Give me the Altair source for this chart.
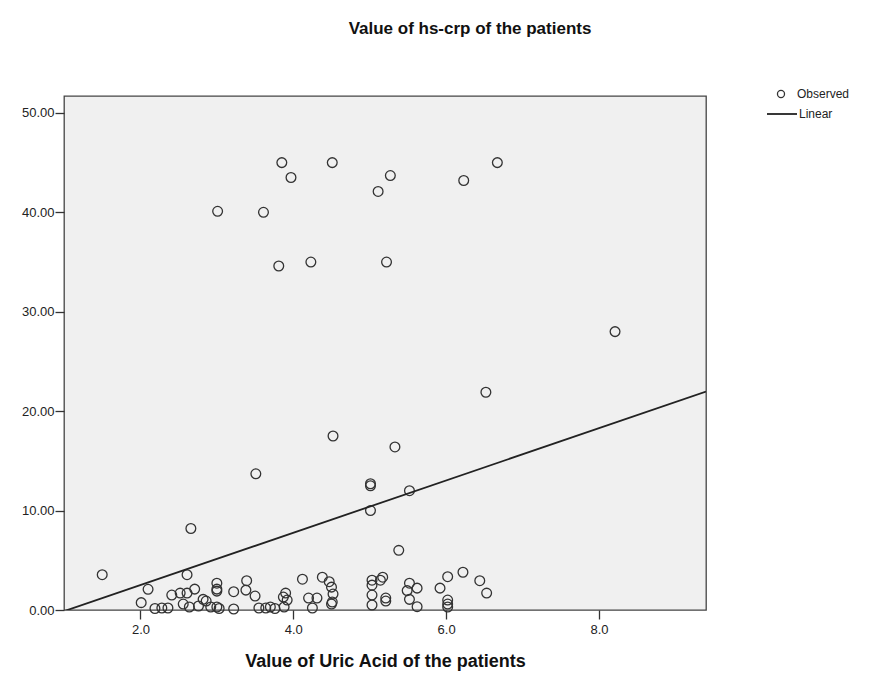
import altair as alt
import pandas as pd

# Observed points (Uric Acid, hs-crp)
obs_x = [3.85, 4.51, 3.97, 5.27, 5.11, 3.01, 3.61, 3.81, 4.23, 5.22, 6.67, 6.23, 8.21,
         4.52, 3.51, 2.66, 1.50, 2.61, 6.52, 5.33, 5.01, 5.01, 5.52, 5.01, 5.38,
         2.01, 2.10, 2.19, 2.28, 2.36, 2.41, 2.52, 2.56, 2.61, 2.71, 2.64, 2.76, 2.82, 2.86, 2.92,
         3.00, 3.00, 3.00, 3.00, 3.03, 3.22, 3.22, 3.39, 3.38, 3.50, 3.55, 3.64, 3.70, 3.76, 3.87,
         3.90, 3.92, 3.88, 4.12, 4.20, 4.25, 4.31, 4.38, 4.47, 4.50, 4.52, 4.51, 4.50, 5.03, 5.14,
         5.17, 5.03, 5.03, 5.03, 5.21, 5.21, 5.52, 5.49, 5.62, 5.52, 5.62, 5.92, 6.02, 6.02, 6.02,
         6.02, 6.22, 6.44, 6.53]
obs_y = [45.0, 45.0, 43.5, 43.7, 42.1, 40.1, 40.0, 34.6, 35.0, 35.0, 45.0, 43.2, 28.0,
         17.5, 13.7, 8.2, 3.55, 3.55, 21.9, 16.4, 12.7, 12.5, 12.0, 10.0, 6.0,
         0.74, 2.08, 0.15, 0.2, 0.2, 1.5, 1.7, 0.6, 1.7, 2.1, 0.3, 0.4, 1.07, 0.9, 0.3,
         2.7, 2.1, 1.9, 0.3, 0.15, 1.84, 0.1, 2.95, 2.0, 1.4, 0.2, 0.2, 0.3, 0.15, 1.3,
         1.7, 1.0, 0.3, 3.1, 1.2, 0.2, 1.2, 3.3, 2.85, 2.3, 1.6, 0.8, 0.6, 3.0, 3.0,
         3.3, 2.5, 1.5, 0.5, 1.2, 0.9, 2.7, 1.95, 2.2, 1.07, 0.33, 2.2, 3.35, 1.0, 0.6,
         0.3, 3.8, 2.95, 1.7]

# Linear fit line endpoints
line_x = [1.0, 9.4]
line_y = [-0.12, 21.97]

x_ticks = [2, 4, 6, 8]
y_ticks = [0, 10, 20, 30, 40, 50]

obs = pd.DataFrame({"x": obs_x, "y": obs_y, "series": "Observed"})
fit = pd.DataFrame({"x": line_x, "y": line_y, "fit": "Linear"})

FONT = "Liberation Sans"

xscale = alt.Scale(domain=[1.0, 9.4], nice=False, zero=False)
yscale = alt.Scale(domain=[0, 51.7], nice=False, zero=False)

xaxis = alt.Axis(values=x_ticks, format=".1f", title="Value of Uric Acid of the patients",
                 domain=False, grid=False, tickSize=9, tickColor="#333", tickWidth=1.3,
                 labelFont=FONT, labelFontSize=13, labelColor="#222", labelPadding=4,
                 titleFont=FONT, titleFontSize=18, titleFontWeight="bold", titleColor="#111",
                 titlePadding=16)
yaxis = alt.Axis(values=y_ticks, format=".2f", title=None,
                 domain=False, grid=False, tickSize=9, tickColor="#333", tickWidth=1.3,
                 labelFont=FONT, labelFontSize=13, labelColor="#222", labelPadding=1,
                 minExtent=51, maxExtent=51)

points = alt.Chart(obs).mark_point(filled=False, strokeWidth=1.3, size=95, opacity=1).encode(
    x=alt.X("x:Q", scale=xscale, axis=xaxis),
    y=alt.Y("y:Q", scale=yscale, axis=yaxis),
    shape=alt.Shape("series:N", scale=alt.Scale(domain=["Observed"], range=["circle"]),
                    legend=alt.Legend(title=None, orient="none", legendX=711, legendY=-8,
                                      symbolSize=50, symbolStrokeColor="#333", symbolStrokeWidth=1.3,
                                      symbolFillColor="transparent", labelOffset=10,
                                      labelFont=FONT, labelFontSize=12, labelColor="#222", padding=0)),
    color=alt.value("#333"),
)

line = alt.Chart(fit).mark_line(strokeWidth=1.8, clip=True).encode(
    x=alt.X("x:Q", scale=xscale),
    y=alt.Y("y:Q", scale=yscale),
    color=alt.Color("fit:N", scale=alt.Scale(domain=["Linear"], range=["#222"]),
                    legend=alt.Legend(title=None, orient="none", legendX=702, legendY=2,
                                      symbolType="stroke", symbolSize=900, symbolStrokeWidth=1.8,
                                      labelOffset=1, labelFont=FONT, labelFontSize=12,
                                      labelColor="#222", padding=0)),
)

chart = alt.layer(points, line).properties(
    width=642, height=514,
    padding={"left": 5, "top": 12, "right": 5, "bottom": 5},
    background="white",
    title=alt.TitleParams("Value of hs-crp of the patients", font=FONT, fontSize=17,
                          fontWeight="bold", color="#111", offset=50, dx=85, anchor="middle"),
).configure_view(fill="#F0F0F0", stroke="#444", strokeWidth=1.3)

chart.save("out.html", embed_options={"renderer": "svg", "actions": False})
